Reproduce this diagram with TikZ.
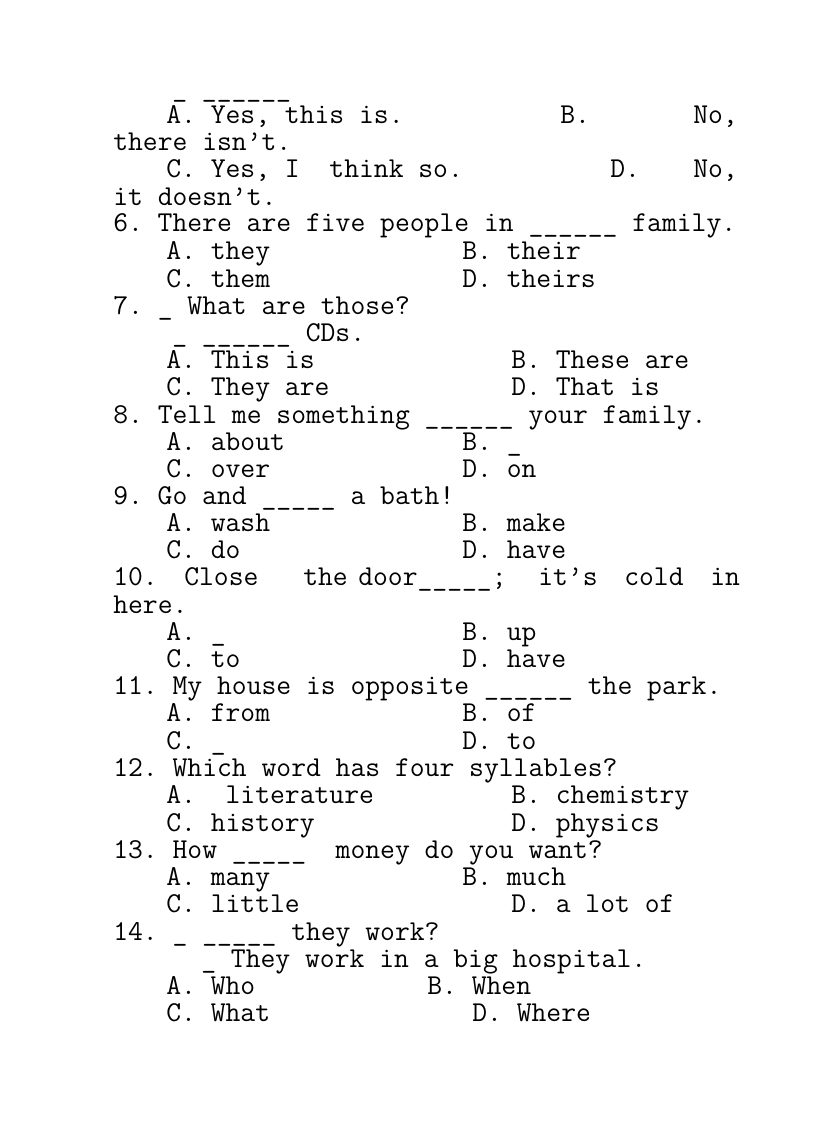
\documentclass[tikz,border=0pt]{standalone}
\usepackage{fontspec}
\frenchspacing
\begin{document}
\begin{tikzpicture}[x=0.75pt,y=-0.75pt,txt/.style={anchor=base west,inner sep=0pt,font=\ttfamily\fontsize{21.6pt}{22pt}\selectfont}]
\useasboundingbox (0,0) rectangle (816,1123);
\frenchspacing
\node[txt] (a0) at (172,97) {\_ \_\_\_\_\_\_};
\node[txt] (a1) at (166,124) {A. Yes, this is.};
\node[txt] (a2) at (560,124) {B.};
\node[txt] (a3) at (693,124) {No,};
\node[txt] (a4) at (113,151) {there isn’t.};
\node[txt] (a5) at (166,178) {C. Yes, I\ \ think so.};
\node[txt] (a6) at (610,178) {D.};
\node[txt] (a7) at (693,178) {No,};
\node[txt] (a8) at (113,205) {it doesn’t.};
\node[txt] (b1) at (113,232) {6. There are five people in \_\_\_\_\_\_ family.};
\node[txt] (b2) at (166,259) {A. they};
\node[txt] (b3) at (462,259) {B. their};
\node[txt] (b4) at (166,287) {C. them};
\node[txt] (b5) at (462,287) {D. theirs};
\node[txt] (c1) at (113,314) {7. \_ What are those?};
\node[txt] (c2) at (172,341) {\_ \_\_\_\_\_\_ CDs.};
\node[txt] (c3) at (166,368) {A. This is};
\node[txt] (c4) at (511,368) {B. These are};
\node[txt] (c5) at (166,395) {C. They are};
\node[txt] (c6) at (511,395) {D. That is};
\node[txt] (d1) at (113,423) {8. Tell me something \_\_\_\_\_\_ your family.};
\node[txt] (d2) at (166,450) {A. about};
\node[txt] (d3) at (462,450) {B. \_};
\node[txt] (d4) at (166,477) {C. over};
\node[txt] (d5) at (462,477) {D. on};
\node[txt] (e1) at (113,504) {9. Go and \_\_\_\_\_ a bath!};
\node[txt] (e2) at (166,531) {A. wash};
\node[txt] (e3) at (462,531) {B. make};
\node[txt] (e4) at (166,558) {C. do};
\node[txt] (e5) at (462,558) {D. have};
\node[txt] (f1) at (113,585) {10.};
\node[txt] (f2) at (184,585) {Close};
\node[txt] (f3) at (303,585) {the};
\node[txt] (f4) at (358,585) {door\_\_\_\_\_;};
\node[txt] (f5) at (538,585) {it’s};
\node[txt] (f6) at (624,585) {cold};
\node[txt] (f7) at (710,585) {in};
\node[txt] (f8) at (113,613) {here.};
\node[txt] (f9) at (166,640) {A. \_};
\node[txt] (f10) at (462,640) {B. up};
\node[txt] (f11) at (166,667) {C. to};
\node[txt] (f12) at (462,667) {D. have};
\node[txt] (g1) at (113,694) {11. My house is opposite \_\_\_\_\_\_ the park.};
\node[txt] (g2) at (166,721) {A. from};
\node[txt] (g3) at (462,721) {B. of};
\node[txt] (g4) at (166,749) {C. \_};
\node[txt] (g5) at (462,749) {D. to};
\node[txt] (h1) at (113,776) {12. Which word has four syllables?};
\node[txt] (h2) at (166,803) {A.\ \ literature};
\node[txt] (h3) at (511,803) {B. chemistry};
\node[txt] (h4) at (166,831) {C. history};
\node[txt] (h5) at (511,831) {D. physics};
\node[txt] (i1) at (113,858) {13. How \_\_\_\_\_\ \ money do you want?};
\node[txt] (i2) at (166,885) {A. many};
\node[txt] (i3) at (462,885) {B. much};
\node[txt] (i4) at (166,912) {C. little};
\node[txt] (i5) at (511,912) {D. a lot of};
\node[txt] (j1) at (113,940) {14. \_ \_\_\_\_\_ they work?};
\node[txt] (j2) at (201,967) {\_ They work in a big hospital.};
\node[txt] (j3) at (166,994) {A. Who};
\node[txt] (j4) at (427,994) {B. When};
\node[txt] (j5) at (166,1021) {C. What};
\node[txt] (j6) at (472,1021) {D. Where};
\end{tikzpicture}
\end{document}
